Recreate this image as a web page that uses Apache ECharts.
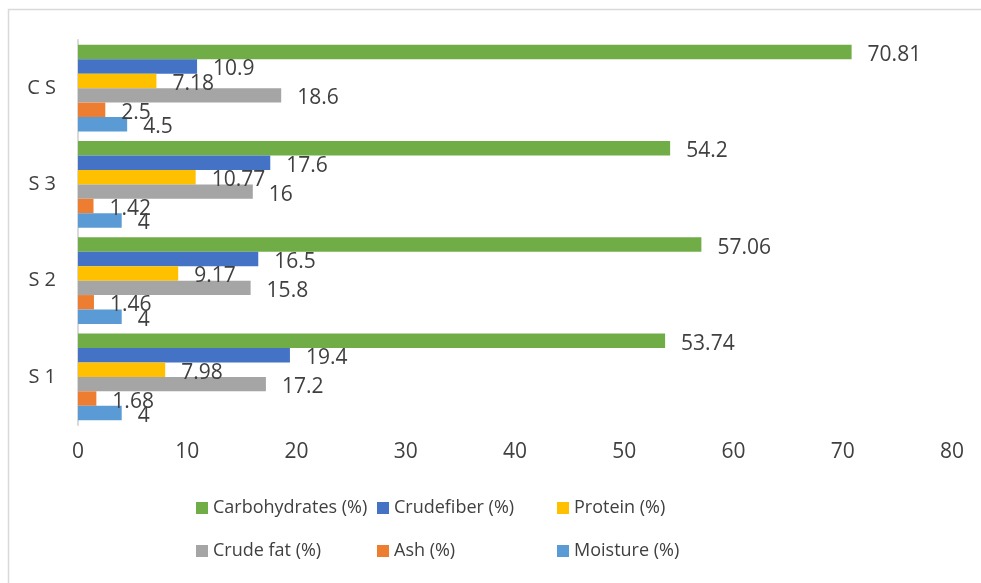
<!DOCTYPE html>
<html>
<head>
<meta charset="utf-8">
<script src="https://cdn.jsdelivr.net/npm/echarts@6/dist/echarts.min.js"></script>
<style>
  html, body { margin: 0; padding: 0; background: #fff; }
  #chart { width: 981px; height: 583px; }
</style>
</head>
<body>
<div id="chart"></div>
<script>
// categories bottom -> top
const categories = ['S 1', 'S 2', 'S 3', 'C S']
const xTicks = { min: 0, max: 80, interval: 10 }

const moisture = [4, 4, 4, 4.5]
const ash = [1.68, 1.46, 1.42, 2.5]
const crudeFat = [17.2, 15.8, 16, 18.6]
const protein = [7.98, 9.17, 10.77, 7.18]
const crudeFiber = [19.4, 16.5, 17.6, 10.9]
const carbohydrates = [53.74, 57.06, 54.2, 70.81]

const font = 'Open Sans, Liberation Sans, sans-serif'
const textColor = '#404040'

// first series ends up on top of each category band
const seriesDefs = [
  { name: 'Carbohydrates (%)', data: carbohydrates, color: '#70ad47' },
  { name: 'Crudefiber (%)', data: crudeFiber, color: '#4472c4' },
  { name: 'Protein (%)', data: protein, color: '#ffc000' },
  { name: 'Crude fat (%)', data: crudeFat, color: '#a5a5a5' },
  { name: 'Ash (%)', data: ash, color: '#ed7d31' },
  { name: 'Moisture (%)', data: moisture, color: '#5b9bd5' },
]

const legendCol = (left, names) => ({
  orient: 'vertical',
  left: left,
  top: 494,
  itemWidth: 12,
  itemHeight: 12,
  itemGap: 25,
  icon: 'rect',
  textStyle: { fontFamily: font, fontSize: 18, color: textColor },
  data: names,
})

const chart = echarts.init(document.getElementById('chart'))
chart.setOption({
  backgroundColor: '#fff',
  animation: false,
  graphic: [{
    type: 'rect',
    shape: { x: 8.5, y: 9.5, width: 1000, height: 600 },
    style: { fill: 'none', stroke: '#d9d9d9', lineWidth: 1.5 },
    silent: true,
  }],
  grid: { left: 78, right: 29, top: 40, bottom: 158 },
  legend: [
    legendCol(191, ['Carbohydrates (%)', 'Crude fat (%)']),
    legendCol(372, ['Crudefiber (%)', 'Ash (%)']),
    legendCol(552, ['Protein (%)', 'Moisture (%)']),
  ],
  xAxis: {
    type: 'value',
    min: xTicks.min,
    max: xTicks.max,
    interval: xTicks.interval,
    axisLine: { show: false },
    axisTick: { show: false },
    splitLine: { show: false },
    axisLabel: { fontFamily: font, fontSize: 21, color: textColor, margin: 17 },
  },
  yAxis: {
    type: 'category',
    data: categories,
    axisLine: { show: true, lineStyle: { color: '#d9d9d9', width: 2 } },
    axisTick: { show: false },
    axisLabel: { fontFamily: font, fontSize: 20, color: textColor, margin: 22 },
  },
  series: seriesDefs.map((s) => ({
    name: s.name,
    type: 'bar',
    data: s.data,
    barGap: 0,
    barCategoryGap: '10%',
    itemStyle: { color: s.color },
    label: {
      show: true,
      position: 'right',
      distance: 16,
      offset: [0, 3],
      fontFamily: font,
      fontSize: 21,
      color: textColor,
    },
  })),
})
</script>
</body>
</html>
